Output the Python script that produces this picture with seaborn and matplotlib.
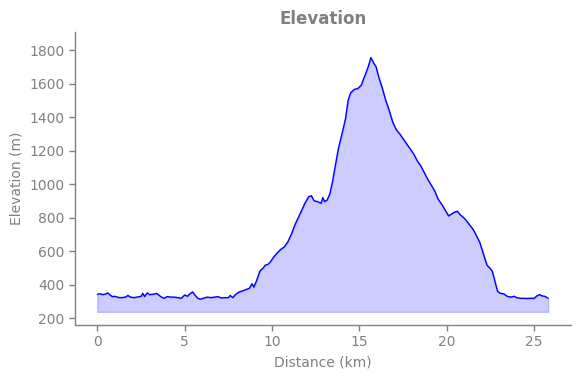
import matplotlib
matplotlib.use("Agg")
import matplotlib.pyplot as plt
import seaborn as sns
import pandas as pd

dist_km = [0.0, 0.15, 0.3, 0.45, 0.6, 0.7, 0.85, 1.0, 1.2, 1.4, 1.6, 1.75, 1.9, 2.1, 2.3, 2.5, 2.6, 2.7,
           2.85, 3.0, 3.2, 3.4, 3.6, 3.8, 4.0, 4.2, 4.4, 4.6, 4.8, 5.0, 5.15, 5.3, 5.45, 5.6, 5.75, 5.9,
           6.1, 6.3, 6.5, 6.7, 6.9, 7.1, 7.3, 7.5, 7.6, 7.75, 7.9, 8.1, 8.3, 8.5, 8.7, 8.85, 8.95, 9.1,
           9.3, 9.5, 9.6, 9.75, 9.9, 10.1, 10.3, 10.5, 10.7, 10.9, 11.1, 11.3, 11.5, 11.7, 11.9, 12.1,
           12.25, 12.4, 12.6, 12.8, 12.9, 13.0, 13.15, 13.3, 13.45, 13.6, 13.8, 14.0, 14.2, 14.35, 14.5,
           14.7, 14.9, 15.1, 15.3, 15.5, 15.65, 15.8, 15.95, 16.1, 16.3, 16.5, 16.7, 16.9, 17.1, 17.3,
           17.5, 17.7, 17.9, 18.1, 18.3, 18.5, 18.7, 18.9, 19.1, 19.3, 19.5, 19.7, 19.9, 20.1, 20.25,
           20.4, 20.6, 20.75, 20.9, 21.05, 21.2, 21.35, 21.5, 21.7, 21.9, 22.1, 22.3, 22.45, 22.6, 22.75,
           22.9, 23.05, 23.25, 23.45, 23.65, 23.85, 24.0, 24.2, 24.4, 24.6, 24.8, 25.0, 25.15, 25.3,
           25.45, 25.6, 25.8]

elev_m = [342, 345, 340, 343, 350, 340, 328, 330, 323, 322, 325, 335, 325, 322, 326, 330, 348, 328,
          350, 340, 342, 347, 330, 318, 328, 325, 325, 322, 318, 338, 330, 345, 356, 335, 318, 312,
          320, 325, 322, 325, 328, 320, 322, 322, 335, 322, 340, 355, 362, 370, 378, 405, 385, 420,
          480, 500, 515, 520, 535, 566, 590, 610, 625, 655, 700, 755, 800, 845, 890, 925,
          930, 900, 895, 885, 920, 895, 905, 940, 1010, 1100, 1215, 1300, 1390, 1500, 1545,
          1565, 1570, 1590, 1645, 1700, 1755, 1725, 1700, 1640, 1575, 1500, 1440, 1370, 1325, 1300,
          1270, 1240, 1210, 1180, 1140, 1110, 1070, 1030, 995, 960, 910, 880, 845, 810, 820,
          830, 838, 818, 805, 790, 770, 750, 730, 690, 648, 580, 515, 500, 480, 420,
          360, 348, 345, 330, 325, 330, 322, 318, 318, 317, 318, 318, 332, 340,
          332, 330, 318]

fill_base = 237

df = pd.DataFrame({"Distance (km)": dist_km, "Elevation (m)": elev_m})

sns.set_style("white")
fig = plt.figure(figsize=(5.8, 3.78), dpi=100)
ax = fig.add_axes([0.129, 0.14, 0.855, 0.775])

ax.fill_between(df["Distance (km)"], df["Elevation (m)"], fill_base, color="blue", alpha=0.2, linewidth=1)
sns.lineplot(data=df, x="Distance (km)", y="Elevation (m)", color="blue", linewidth=1.0, ax=ax)

gray = "#808080"
ax.set_title("Elevation", fontsize=12, fontweight="bold", color=gray)
ax.set_xlabel("Distance (km)", fontsize=10, color=gray)
ax.set_ylabel("Elevation (m)", fontsize=10, color=gray)
ax.set_xlim(-1.29, 27.09)
ax.set_ylim(158, 1907)
ax.set_xticks([0, 5, 10, 15, 20, 25])
ax.set_yticks([200, 400, 600, 800, 1000, 1200, 1400, 1600, 1800])
ax.tick_params(axis="both", colors=gray, labelsize=10, length=4, width=1, left=True, bottom=True)
for s in ["top", "right"]:
    ax.spines[s].set_visible(False)
for s in ["left", "bottom"]:
    ax.spines[s].set_color(gray)
    ax.spines[s].set_linewidth(1)

fig.savefig("out.png", dpi=100)
